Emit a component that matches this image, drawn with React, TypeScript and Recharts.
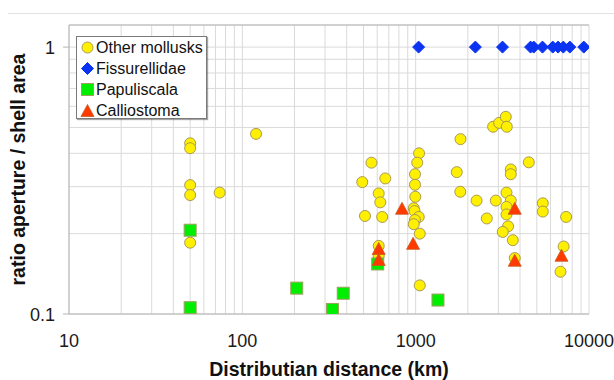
import React from "react";
import {
  ScatterChart,
  Scatter,
  XAxis,
  YAxis,
  CartesianGrid,
  Legend,
  Label,
} from "recharts";

// distance (km) vs ratio aperture / shell area
const otherMollusks = [
  { dist: 50, ratio: 0.436 },
  { dist: 50, ratio: 0.418 },
  { dist: 50, ratio: 0.304 },
  { dist: 50, ratio: 0.279 },
  { dist: 50, ratio: 0.185 },
  { dist: 74, ratio: 0.285 },
  { dist: 120, ratio: 0.473 },
  { dist: 492, ratio: 0.312 },
  { dist: 556, ratio: 0.369 },
  { dist: 668, ratio: 0.322 },
  { dist: 612, ratio: 0.283 },
  { dist: 625, ratio: 0.262 },
  { dist: 510, ratio: 0.233 },
  { dist: 641, ratio: 0.231 },
  { dist: 612, ratio: 0.18 },
  { dist: 612, ratio: 0.165 },
  { dist: 1046, ratio: 0.4 },
  { dist: 1021, ratio: 0.369 },
  { dist: 991, ratio: 0.334 },
  { dist: 991, ratio: 0.305 },
  { dist: 995, ratio: 0.275 },
  { dist: 975, ratio: 0.249 },
  { dist: 985, ratio: 0.243 },
  { dist: 1042, ratio: 0.231 },
  { dist: 990, ratio: 0.225 },
  { dist: 975, ratio: 0.217 },
  { dist: 1056, ratio: 0.2 },
  { dist: 1056, ratio: 0.128 },
  { dist: 1814, ratio: 0.452 },
  { dist: 1726, ratio: 0.34 },
  { dist: 1809, ratio: 0.287 },
  { dist: 2246, ratio: 0.266 },
  { dist: 2898, ratio: 0.266 },
  { dist: 2572, ratio: 0.228 },
  { dist: 2797, ratio: 0.503 },
  { dist: 3030, ratio: 0.52 },
  { dist: 3311, ratio: 0.548 },
  { dist: 3355, ratio: 0.503 },
  { dist: 4495, ratio: 0.37 },
  { dist: 3538, ratio: 0.348 },
  { dist: 3538, ratio: 0.334 },
  { dist: 3342, ratio: 0.285 },
  { dist: 3538, ratio: 0.266 },
  { dist: 3342, ratio: 0.252 },
  { dist: 3342, ratio: 0.236 },
  { dist: 3414, ratio: 0.213 },
  { dist: 3181, ratio: 0.203 },
  { dist: 3634, ratio: 0.189 },
  { dist: 3730, ratio: 0.162 },
  { dist: 5412, ratio: 0.26 },
  { dist: 5412, ratio: 0.242 },
  { dist: 7380, ratio: 0.231 },
  { dist: 7137, ratio: 0.179 },
  { dist: 6847, ratio: 0.144 },
];

const fissurellidae = [
  { dist: 1040, ratio: 1 },
  { dist: 2210, ratio: 1 },
  { dist: 3170, ratio: 1 },
  { dist: 4600, ratio: 1 },
  { dist: 4800, ratio: 1 },
  { dist: 5390, ratio: 1 },
  { dist: 6180, ratio: 1 },
  { dist: 6630, ratio: 1 },
  { dist: 7110, ratio: 1 },
  { dist: 7750, ratio: 1 },
  { dist: 9330, ratio: 1 },
];

const papuliscala = [
  { dist: 50, ratio: 0.206 },
  { dist: 50, ratio: 0.1056 },
  { dist: 206, ratio: 0.125 },
  { dist: 331, ratio: 0.104 },
  { dist: 382, ratio: 0.1196 },
  { dist: 604, ratio: 0.154 },
  { dist: 1345, ratio: 0.1128 },
];

const calliostoma = [
  { dist: 834, ratio: 0.249 },
  { dist: 966, ratio: 0.184 },
  { dist: 612, ratio: 0.176 },
  { dist: 612, ratio: 0.16 },
  { dist: 3730, ratio: 0.249 },
  { dist: 3730, ratio: 0.159 },
  { dist: 6940, ratio: 0.166 },
];

const xGridTicks = [
  10, 20, 30, 40, 50, 60, 70, 80, 90,
  100, 200, 300, 400, 500, 600, 700, 800, 900,
  1000, 2000, 3000, 4000, 5000, 6000, 7000, 8000, 9000,
  10000,
];
const xMajorTicks = [10, 100, 1000, 10000];
const yTicks = [0.1, 0.2, 0.3, 0.4, 0.5, 0.6, 0.7, 0.8, 0.9, 1];
const yMajorTicks = [0.1, 1];

const FONT = '"Liberation Sans", Arial, sans-serif';
const GRID = "#dadada";
const AXIS = "#b4b4b4";

const YELLOW = "#FFEF00";
const YELLOW_EDGE = "#A89A55";
const BLUE = "#0B33F2";
const GREEN = "#00EE00";
const GREEN_EDGE = "#A0A060";
const RED = "#FF3A00";
const RED_EDGE = "#C85A1E";

function CircleMark({ cx, cy }: any) {
  return <circle cx={cx} cy={cy} r={5.5} fill={YELLOW} stroke={YELLOW_EDGE} strokeWidth={1} />;
}

function DiamondMark({ cx, cy }: any) {
  const s = 6;
  return (
    <path
      d={`M${cx},${cy - s}L${cx + s},${cy}L${cx},${cy + s}L${cx - s},${cy}Z`}
      fill={BLUE}
      stroke={BLUE}
      strokeWidth={1}
    />
  );
}

function SquareMark({ cx, cy }: any) {
  const s = 6;
  return (
    <rect x={cx - s} y={cy - s} width={s * 2} height={s * 2} fill={GREEN} stroke={GREEN_EDGE} strokeWidth={1} />
  );
}

function TriangleMark({ cx, cy }: any) {
  const h = 6;
  return (
    <path
      d={`M${cx},${cy - h}L${cx + 6.5},${cy + h}L${cx - 6.5},${cy + h}Z`}
      fill={RED}
      stroke={RED_EDGE}
      strokeWidth={0.8}
    />
  );
}

const XTick = ({ x, y, payload }: any) => {
  if (!xMajorTicks.includes(payload.value)) return <g />;
  return (
    <text x={x} y={y + 33} textAnchor="middle" fontSize={18} fill="#1a1a1a" fontFamily={FONT}>
      {payload.value}
    </text>
  );
};

const YTick = ({ x, y, payload }: any) => {
  if (!yMajorTicks.includes(payload.value)) return <g />;
  return (
    <g>
      <line x1={x - 6} x2={x} y1={y} y2={y} stroke={AXIS} />
      <text
        x={x - 14}
        y={y + 6.5}
        textAnchor="end"
        fontSize={18}
        fill="#1a1a1a"
        fontFamily={FONT}
      >
        {payload.value}
      </text>
    </g>
  );
};

const legendItems = [
  { name: "Other mollusks", Mark: CircleMark },
  { name: "Fissurellidae", Mark: DiamondMark },
  { name: "Papuliscala", Mark: SquareMark },
  { name: "Calliostoma", Mark: TriangleMark },
];

const LegendBox = () => (
  <div
    style={{
      width: 129,
      height: 81,
      border: "1px solid #7a7a7a",
      boxShadow: "1px 1px 1px rgba(0,0,0,0.35)",
      background: "#fff",
      fontFamily: FONT,
      fontSize: 16,
      color: "#111",
    }}
  >
    {legendItems.map(({ name, Mark }) => (
      <div key={name} style={{ height: 21, display: "flex", alignItems: "center" }}>
        <svg width={18} height={21} style={{ marginLeft: 1 }}>
          <Mark cx={9.5} cy={10.5} />
        </svg>
        <span style={{ marginLeft: 0, lineHeight: "21px" }}>{name}</span>
      </div>
    ))}
  </div>
);

export default function App() {
  return (
    <div style={{ position: "relative", width: 614, height: 380, background: "#fff" }}>
      <style>{`body { margin: 0; }`}</style>
      <div
        style={{
          position: "absolute",
          left: 8,
          right: 0,
          top: 13,
          height: 0,
          borderTop: "1px solid #e2e2e2",
        }}
      />
      <ScatterChart
        width={614}
        height={380}
        margin={{ top: 20, right: 25, left: 0, bottom: 0 }}
      >
        <CartesianGrid stroke={GRID} />
        <XAxis
          dataKey="dist"
          type="number"
          scale="log"
          domain={[10, 10000]}
          allowDataOverflow
          ticks={xGridTicks}
          interval={0}
          tick={<XTick />}
          tickLine={false}
          tickSize={0}
          tickMargin={0}
          axisLine={{ stroke: AXIS }}
          height={66}
        >
          <Label
            value="Distributian distance (km)"
            position="insideBottom"
            offset={4}
            style={{ fontFamily: FONT, fontWeight: 700, fontSize: 19.5, fill: "#111" }}
          />
        </XAxis>
        <XAxis
          xAxisId="top"
          orientation="top"
          type="number"
          scale="log"
          domain={[10, 10000]}
          allowDataOverflow
          ticks={xMajorTicks}
          interval={0}
          tick={false}
          tickLine={{ stroke: GRID }}
          tickSize={5}
          axisLine={{ stroke: AXIS }}
          height={5}
        />
        <YAxis
          dataKey="ratio"
          type="number"
          scale="log"
          domain={[0.1, 1.21]}
          allowDataOverflow
          ticks={yTicks}
          interval={0}
          tick={<YTick />}
          tickLine={false}
          tickSize={0}
          tickMargin={0}
          axisLine={{ stroke: AXIS }}
          width={69}
        >
          <Label
            value="ratio aperture / shell area"
            position="insideLeft"
            angle={-90}
            offset={18}
            style={{
              textAnchor: "middle",
              fontFamily: FONT,
              fontWeight: 700,
              fontSize: 19.5,
              fill: "#111",
            }}
          />
        </YAxis>
        <Legend
          layout="vertical"
          align="center"
          verticalAlign="middle"
          content={<LegendBox />}
          wrapperStyle={{ left: 76, top: 36, width: 131, height: 83 }}
        />
        <Scatter
          name="Other mollusks"
          data={otherMollusks}
          shape={CircleMark}
          isAnimationActive={false}
        />
        <Scatter
          name="Fissurellidae"
          data={fissurellidae}
          shape={DiamondMark}
          isAnimationActive={false}
        />
        <Scatter
          name="Papuliscala"
          data={papuliscala}
          shape={SquareMark}
          isAnimationActive={false}
        />
        <Scatter
          name="Calliostoma"
          data={calliostoma}
          shape={TriangleMark}
          isAnimationActive={false}
        />
      </ScatterChart>
    </div>
  );
}
